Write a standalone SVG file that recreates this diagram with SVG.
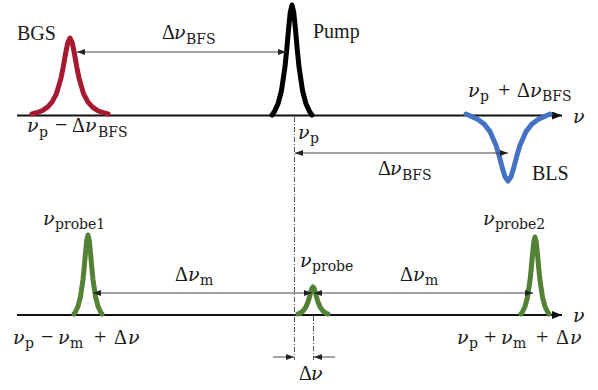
<svg xmlns="http://www.w3.org/2000/svg" width="598" height="390" viewBox="0 0 598 390">
<style>
text{font-family:"DejaVu Serif","Liberation Serif",serif;fill:#1a1a1a}
.lbl{font-family:"Liberation Serif","Times New Roman",serif;font-size:20px}
.m{font-size:19px}
.i{font-style:italic}
.d{font-family:"Liberation Serif","Times New Roman",serif;font-size:20px;font-style:normal}
.o{font-family:"Liberation Serif","Times New Roman",serif;font-size:22px;font-style:normal}
.s{font-size:14px;font-style:normal}
.axis{stroke:#111;stroke-width:1.8;fill:none}
.dim{stroke:#444;stroke-width:1;fill:none}
.dash{stroke:#555;stroke-width:1;stroke-dasharray:5 2 1 2;fill:none}
.pk{fill:none;stroke-width:5;stroke-linecap:round;stroke-linejoin:round}
</style>
<defs>
<marker id="ah" markerUnits="userSpaceOnUse" markerWidth="8" markerHeight="6" refX="8" refY="3" orient="auto-start-reverse"><path d="M0,0 L8,3 L0,6 z" fill="#222"/></marker>
<marker id="axh" markerUnits="userSpaceOnUse" markerWidth="10" markerHeight="8" refX="10" refY="4" orient="auto"><path d="M0,0 L10,4 L0,8 z" fill="#111"/></marker>
</defs>

<g id="axes">
<line class="axis" x1="17" y1="115.5" x2="562" y2="115.5" marker-end="url(#axh)"/>
<line class="axis" x1="17" y1="315" x2="562" y2="315" marker-end="url(#axh)"/>
<text class="m i" x="573" y="123">ν</text>
<text class="m i" x="573" y="322">ν</text>
</g>

<g id="bgs">
<polyline class="pk" stroke="#A6192E" points="32,114 38.5,112.2 43,110.2 47.5,107.2 52,102.2 56.5,93.6 61,78.1 63.25,66.9 65.5,54 67.75,42.7 70,38 72.25,42.7 74.5,54 76.75,66.9 79,78.1 83.5,93.6 88,102.2 92.5,107.2 97,110.2 101.5,112.2 108,114"/>
<text class="lbl" x="17" y="40">BGS</text>
<text class="m" x="27" y="132"><tspan class="i">ν</tspan><tspan class="s" x="39" y="137">p</tspan><tspan class="o" x="55" y="132">−</tspan><tspan class="d" x="72">Δ</tspan><tspan class="i" x="85">ν</tspan><tspan class="s" x="98" y="137">BFS</tspan></text>
</g>

<g id="pump">
<polyline class="pk" stroke="#000" points="272,115 274.5,111.5 278,103.8 281.5,90.5 285,66.7 286.75,49.4 288.5,29.8 290.25,12.3 292,5 293.75,12.3 295.5,29.8 297.25,49.4 299,66.7 302.5,90.5 306,103.8 309.5,111.5 312,115"/>
<text class="lbl" x="313" y="38">Pump</text>
<text class="m" x="298" y="139"><tspan class="i">ν</tspan><tspan class="s" x="310" y="143">p</tspan></text>
</g>

<g id="bls">
<polyline class="pk" stroke="#4472C4" points="466,114 472,116.7 478,119.5 484,123.9 490,131.6 496,145.3 499,155.3 502,166.7 505,176.8 508,181 511,176.8 514,166.7 517,155.3 520,145.3 526,131.6 532,123.9 538,119.5 544,116.7 550,114"/>
<text class="lbl" x="532" y="180">BLS</text>
<text class="m" x="468" y="97"><tspan class="i">ν</tspan><tspan class="s" x="480" y="101">p</tspan><tspan class="o" x="498" y="97">+</tspan><tspan class="d" x="517">Δ</tspan><tspan class="i" x="530">ν</tspan><tspan class="s" x="542" y="101">BFS</tspan></text>
</g>

<g id="probe1">
<polyline class="pk" stroke="#538135" points="74,314 75.5,311.8 78,306.3 80.5,296.6 83,279.6 84.25,267.1 85.5,252.9 86.75,240.3 88,235 89.25,240.3 90.5,252.9 91.75,267.1 93,279.6 95.5,296.6 98,306.3 100.5,311.8 102,314"/>
<text class="m" x="43" y="225"><tspan class="i">ν</tspan><tspan class="s" x="55" y="229">probe1</tspan></text>
<text class="m" x="13" y="344"><tspan class="i">ν</tspan><tspan class="s" x="25" y="348">p</tspan><tspan class="o" x="41" y="344">−</tspan><tspan class="i" x="58">ν</tspan><tspan class="s" x="70" y="348">m</tspan><tspan class="o" x="94" y="344">+</tspan><tspan class="d" x="114">Δ</tspan><tspan class="i" x="128">ν</tspan></text>
</g>

<g id="probe">
<polyline class="pk" stroke="#538135" points="298,314 300.5,312.9 303,311 305.5,307.8 308,302 309.25,297.8 310.5,293 311.75,288.8 313,287 314.25,288.8 315.5,293 316.75,297.8 318,302 320.5,307.8 323,311 325.5,312.9 328,314"/>
<text class="m" x="300" y="267"><tspan class="i">ν</tspan><tspan class="s" x="312" y="271">probe</tspan></text>
</g>

<g id="probe2">
<polyline class="pk" stroke="#538135" points="521,314 522.5,311.8 525,306.5 527.5,297.1 530,280.4 531.25,268.3 532.5,254.4 533.75,242.2 535,237 536.25,242.2 537.5,254.4 538.75,268.3 540,280.4 542.5,297.1 545,306.5 547.5,311.8 549,314"/>
<text class="m" x="483" y="225"><tspan class="i">ν</tspan><tspan class="s" x="495" y="229">probe2</tspan></text>
<text class="m" x="457" y="344"><tspan class="i">ν</tspan><tspan class="s" x="469" y="348">p</tspan><tspan class="o" x="484" y="344">+</tspan><tspan class="i" x="501">ν</tspan><tspan class="s" x="513" y="348">m</tspan><tspan class="o" x="536" y="344">+</tspan><tspan class="d" x="556">Δ</tspan><tspan class="i" x="570">ν</tspan></text>
</g>

<g id="connectors">
<line class="dash" x1="294.5" y1="117" x2="294.5" y2="360"/>
<line class="dash" x1="313.5" y1="316" x2="313.5" y2="360"/>
<line class="dim" x1="77" y1="52" x2="286" y2="52" marker-start="url(#ah)" marker-end="url(#ah)"/>
<line class="dim" x1="295" y1="153" x2="508" y2="153" marker-start="url(#ah)" marker-end="url(#ah)"/>
<line class="dim" x1="93" y1="293" x2="312" y2="293" marker-start="url(#ah)" marker-end="url(#ah)"/>
<line class="dim" x1="314" y1="293" x2="533" y2="293" marker-start="url(#ah)" marker-end="url(#ah)"/>
<line class="dim" x1="273" y1="357" x2="294" y2="357" marker-end="url(#ah)"/>
<line class="dim" x1="335" y1="357" x2="314" y2="357" marker-end="url(#ah)"/>
</g>

<g id="dim-labels">
<text class="m" x="162" y="39"><tspan class="d">Δ</tspan><tspan class="i" x="174">ν</tspan><tspan class="s" x="186" y="44">BFS</tspan></text>
<text class="m" x="378" y="175"><tspan class="d">Δ</tspan><tspan class="i" x="390">ν</tspan><tspan class="s" x="402" y="180">BFS</tspan></text>
<text class="m" x="175" y="281"><tspan class="d">Δ</tspan><tspan class="i" x="188">ν</tspan><tspan class="s" x="200" y="285">m</tspan></text>
<text class="m" x="400" y="281"><tspan class="d">Δ</tspan><tspan class="i" x="413">ν</tspan><tspan class="s" x="425" y="285">m</tspan></text>
<text class="m" x="299" y="380"><tspan class="d">Δ</tspan><tspan class="i" x="311">ν</tspan></text>
</g>
</svg>
